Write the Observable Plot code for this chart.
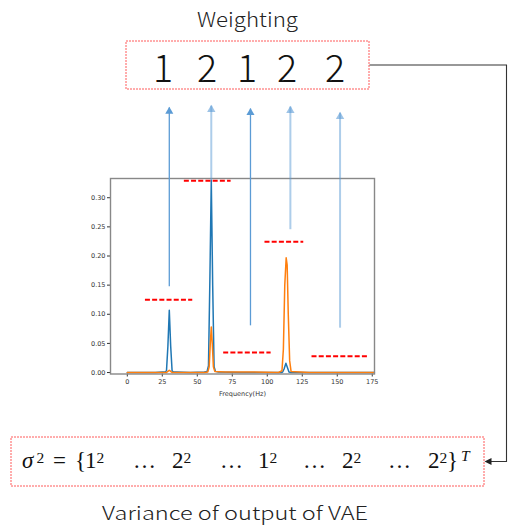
<!DOCTYPE html>
<html><head><meta charset="utf-8">
<script src="https://cdn.jsdelivr.net/npm/d3@7"></script>
<script src="https://cdn.jsdelivr.net/npm/@observablehq/plot@0.6"></script>
<style>
html,body{margin:0;padding:0;background:#fff;}
#wrap{position:relative;width:513px;height:529px;overflow:hidden;background:#fff;}
#wrap > svg{position:absolute;left:0;top:0;}
</style></head><body><div id="wrap"></div>
<script>
// ---- data ----
const blueFreq = [0, 10, 20, 25, 27, 28, 29, 30, 31, 32, 33, 35, 45, 55, 57, 58, 59, 60, 61, 62, 63, 65, 80, 100, 110, 111, 112, 113.3, 114.5, 115.5, 117, 130, 150, 176.5];
const blueVal  = [0, 0, 0, 0.001, 0.001, 0.003, 0.045, 0.107, 0.045, 0.003, 0.001, 0.001, 0, 0.001, 0.002, 0.012, 0.16, 0.33, 0.15, 0.01, 0.002, 0.001, 0, 0, 0, 0.001, 0.006, 0.016, 0.008, 0.001, 0, 0, 0, 0];
const orangeFreq = [0, 20, 28, 29, 30, 31, 32, 40, 55, 57.5, 58.5, 59.3, 60, 60.7, 61.5, 62.5, 70, 90, 108, 110.5, 111.5, 112.5, 113.5, 114.2, 115, 116, 117, 130, 150, 176.5];
const orangeVal  = [0, 0, 0, 0.002, 0.004, 0.002, 0, 0, 0, 0.001, 0.01, 0.05, 0.078, 0.05, 0.01, 0.002, 0.001, 0.001, 0, 0.003, 0.04, 0.15, 0.197, 0.185, 0.1, 0.02, 0.002, 0, 0, 0];
const bandX1 = [12.6, 40.4, 68.5, 98, 131.6];
const bandX2 = [46.4, 73.8, 102.4, 125.7, 172.6];
const bandLevel = [0.125, 0.329, 0.0344, 0.2245, 0.028];
const arrowFreq = [30, 60, 88, 116.5, 152];
const arrowBase = [0.148, 0.33, 0.081, 0.246, 0.077];
const arrowTip  = [0.455, 0.458, 0.453, 0.4565, 0.446];
const weights = [1, 2, 1, 2, 2];
const xTicks = [0, 25, 50, 75, 100, 125, 150, 175];
const yTicks = [0, 0.05, 0.10, 0.15, 0.20, 0.25, 0.30];
const titleText = "Weighting";
const captionText = "Variance of output of VAE";
const xLabel = "Frequency(Hz)";

// ---- tables ----
const blue = blueFreq.map((f, i) => ({f, v: blueVal[i]}));
const orange = orangeFreq.map((f, i) => ({f, v: orangeVal[i]}));
const bands = bandX1.map((x1, i) => ({x1, x2: bandX2[i], y: bandLevel[i]}));
const arrows = arrowFreq.map((f, i) => ({f, base: arrowBase[i], tip: arrowTip[i], i}));
const strong = arrows.filter(d => d.i === 0 || d.i === 2);
const light = arrows.filter(d => !(d.i === 0 || d.i === 2));

const plot = Plot.plot({
  width: 513, height: 529,
  marginLeft: 110, marginRight: 139, marginTop: 178, marginBottom: 155.5,
  style: {fontFamily: "DejaVu Sans", fontSize: "6.5px", color: "#333", background: "transparent"},
  x: {domain: [-12, 176.6], ticks: xTicks, tickSize: 3, tickPadding: 2, label: xLabel, labelAnchor: "center", labelOffset: 22, labelArrow: "none"},
  y: {domain: [-0.0025, 0.333], ticks: yTicks, tickSize: 3, tickPadding: 2, tickFormat: d3.format(".2f"), label: null},
  marks: [
    Plot.line(blue, {x: "f", y: "v", stroke: "#1f77b4", strokeWidth: 1.5}),
    Plot.line(orange, {x: "f", y: "v", stroke: "#ff7f0e", strokeWidth: 1.5}),
    Plot.frame({stroke: "#888", strokeWidth: 1.4}),
    Plot.link(bands, {x1: "x1", x2: "x2", y1: "y", y2: "y", stroke: "#ff0000", strokeWidth: 2, strokeDasharray: "5,2.2"}),
    Plot.link(strong, {x1: "f", x2: "f", y1: "base", y2: "tip", stroke: "#5b9bd5", strokeWidth: 1.3}),
    Plot.link(light, {x1: "f", x2: "f", y1: "base", y2: "tip", stroke: "#5b9bd5", strokeOpacity: 0.5, strokeWidth: 2}),
    Plot.dot(strong, {x: "f", y: "tip", symbol: "triangle", r: 3, dy: 4, fill: "#5b9bd5", stroke: "none"}),
    Plot.dot(light, {x: "f", y: "tip", symbol: "triangle", r: 3.1, dy: 4, fill: "#5b9bd5", fillOpacity: 0.6, stroke: "none"})
  ]
});
const wrap = document.getElementById("wrap");
wrap.appendChild(plot);

// ---- diagram overlay ----
const svg = d3.create("svg").attr("width", 513).attr("height", 529).style("pointer-events", "none");
const sans = "'Noto Sans CJK KR', 'Noto Sans', sans-serif";
svg.append("text").attr("x", 247.5).attr("y", 26.7).attr("text-anchor", "middle")
  .attr("font-family", sans).attr("font-weight", 300).attr("font-size", 19.5).attr("fill", "#222")
  .attr("textLength", 101).attr("lengthAdjust", "spacingAndGlyphs").text(titleText);
svg.append("rect").attr("x", 126).attr("y", 41).attr("width", 243).attr("height", 48)
  .attr("fill", "none").attr("stroke", "#ff5a5a").attr("stroke-width", 1).attr("stroke-dasharray", "2,1");
const digitX = [163, 207, 247, 287, 335];
weights.forEach((w, i) => {
  svg.append("text").attr("x", digitX[i]).attr("y", 81.7).attr("text-anchor", "middle")
    .attr("font-family", sans).attr("font-weight", 300).attr("font-size", 37.5).attr("fill", "#111").text(w);
});
// connector
svg.append("path").attr("d", "M369.5,65 H506.5 V461.5 H489").attr("fill", "none").attr("stroke", "#333").attr("stroke-width", 1.1);
svg.append("path").attr("d", "M484.5,461.5 L491.5,458 L491.5,465 Z").attr("fill", "#222");
// bottom box
svg.append("rect").attr("x", 11).attr("y", 437).attr("width", 473).attr("height", 49)
  .attr("fill", "none").attr("stroke", "#ff5a5a").attr("stroke-width", 1).attr("stroke-dasharray", "2,1");
const serif = "'Liberation Serif', 'DejaVu Serif', serif";
const g = svg.append("g").attr("font-family", serif).attr("fill", "#111");
function t(x, y, s, size, italic) {
  g.append("text").attr("x", x).attr("y", y).attr("font-size", size).attr("font-style", italic ? "italic" : "normal").text(s);
}
const base = 468.3, sup = 462.5, fs = 23, ss = 15.5;
t(22, base, "σ", fs, true); t(36.5, sup, "2", ss);
t(53, base, "=", fs);
t(75, base, "{", fs);
const termX = [85, 172, 258, 342, 428];
const dotsX = [133, 220, 303, 388];
weights.forEach((w, i) => {
  t(termX[i], base, String(w), fs);
  t(termX[i] + 11.5, sup, "2", ss);
  if (i < dotsX.length) t(dotsX[i], base, "…", fs);
});
t(447, base, "}", fs);
t(461, sup - 2, "T", ss, true);
svg.append("text").attr("x", 235).attr("y", 520).attr("text-anchor", "middle")
  .attr("font-family", sans).attr("font-weight", 300).attr("font-size", 18.5).attr("fill", "#222")
  .attr("textLength", 266).attr("lengthAdjust", "spacingAndGlyphs").text(captionText);
wrap.appendChild(svg.node());
</script></body></html>
